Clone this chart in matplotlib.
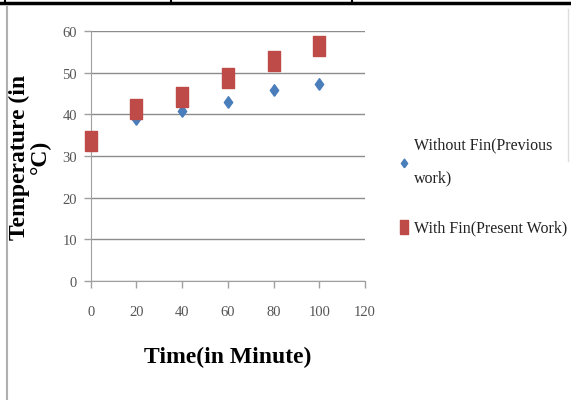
import numpy as np
import matplotlib
matplotlib.use('Agg')
import matplotlib.pyplot as plt
from matplotlib.lines import Line2D

time_min = [0, 20, 40, 60, 80, 100]
without_fin = [34, 39, 40.8, 43, 45.9, 47.2]
with_fin = [33.6, 41.2, 44.3, 48.7, 52.8, 56.4]
x_ticks = [0, 20, 40, 60, 80, 100, 120]
y_ticks = [0, 10, 20, 30, 40, 50, 60]

plt.rcParams['font.family'] = ['Liberation Serif', 'DejaVu Serif']

blue = '#4a7ebb'
red = '#be4b48'
# tall rectangle marker (the original image is squeezed sideways)
rect = [(-0.3, -0.5), (0.3, -0.5), (0.3, 0.5), (-0.3, 0.5), (-0.3, -0.5)]
diam = [(0, -0.5), (0.36, 0), (0, 0.5), (-0.36, 0), (0, -0.5)]

fig = plt.figure(figsize=(5.71, 4.06), dpi=100)
ax = fig.add_axes([0.159, 0.305, 0.48, 0.616])

ax.scatter(time_min, without_fin, marker=diam, s=70, color=blue, zorder=3,
           clip_on=False, label='Without Fin(Previous\nwork)')
ax.scatter(time_min, with_fin, marker=rect, s=190, color=red, zorder=4,
           clip_on=False, label='With Fin(Present Work)')

ax.set_xlim(0, 120)
ax.set_ylim(0, 60)
ax.set_xticks(x_ticks)
ax.set_yticks(y_ticks)
ax.grid(axis='y', color='#8c8c8c', linewidth=1)
ax.set_axisbelow(True)
for s in ['top', 'right']:
    ax.spines[s].set_visible(False)
for s in ['left', 'bottom']:
    ax.spines[s].set_color('#a0a0a0')
ax.tick_params(colors='#a0a0a0', length=5, width=1, labelsize=10.5,
               labelcolor='#555555')
ax.tick_params(axis='x', pad=12)
ax.tick_params(axis='y', pad=5)

ax.set_xlabel('Time(in Minute)', fontsize=17, fontweight='bold', labelpad=20)
ax.set_ylabel('Temperature (in\n°C)', fontsize=17, fontweight='bold', labelpad=8,
              linespacing=1.0)

leg = fig.legend(loc='center left', bbox_to_anchor=(0.672, 0.54), frameon=False,
                 fontsize=11.5, handletextpad=0.3, labelspacing=2.1,
                 handlelength=0.7, markerscale=0.75)
for t in leg.get_texts():
    t.set_color('#222222')
leg.get_texts()[0].set_linespacing(2.4)

# frame of the table cell around the chart
fig.add_artist(Line2D([0, 1], [0.99, 0.99], color='black', lw=2.5))
for xv in [0.009, 0.3, 0.617]:
    fig.add_artist(Line2D([xv, xv], [0.99, 1.0], color='black', lw=1.5))
fig.add_artist(Line2D([0.013, 0.013], [0.015, 0.98], color='#b0b0b0', lw=1.5))
fig.add_artist(Line2D([0.995, 0.995], [0.6, 0.975], color='#dddddd', lw=1))

plt.savefig('out.png', dpi=100)
